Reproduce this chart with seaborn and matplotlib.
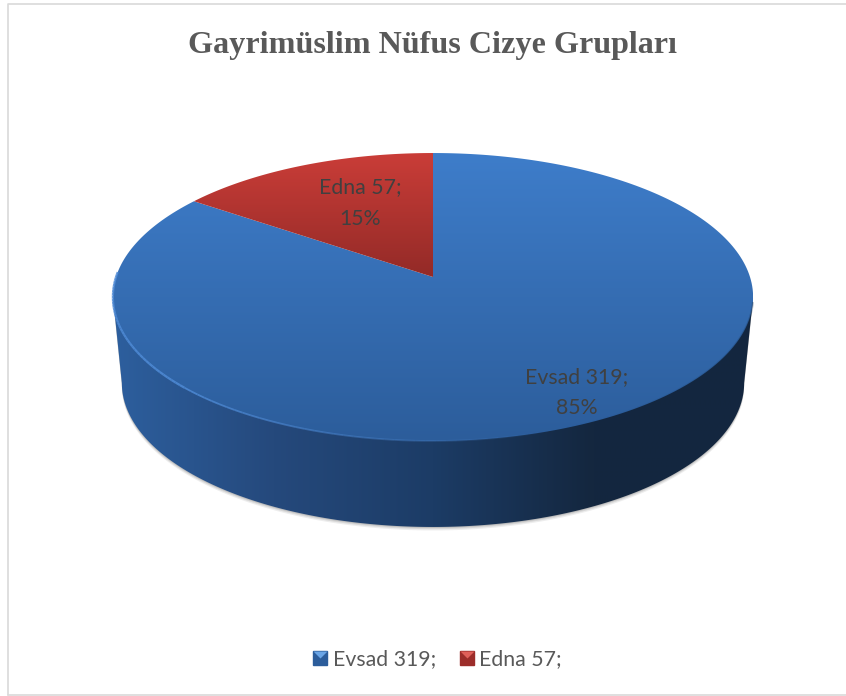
import numpy as np
import matplotlib
matplotlib.use("Agg")
import matplotlib.pyplot as plt
import seaborn as sns
from matplotlib.colors import LinearSegmentedColormap
from matplotlib.legend_handler import HandlerTuple
from matplotlib.lines import Line2D
from matplotlib.patches import Polygon
from matplotlib.transforms import Affine2D

# data
title = "Gayrimüslim Nüfus Cizye Grupları"
labels = ["Evsad", "Edna"]
values = [319, 57]

sns.set_theme(style="white")
plt.rcParams["font.family"] = ["Lato", "DejaVu Sans"]

# colours of the faces, top to bottom / left to right
blue_face = ["#3e7dca", "#2c5d9b"]
red_face = ["#ca3d38", "#932a27"]
wall = ["#2d5f9e", "#25497c", "#1c3c66", "#14273f", "#13263f"]

# pixel geometry of the tilted pie
CX, CY = 433, 277
R, A, C = 317, 141.2, 0.1389
DEPTH = 86


def project(u, v, dy=0, sx=1.0):
    # perspective view of the flat unit disc
    w = 1 + C * v
    return CX + sx * R * u / w, CY + dy - A * v / w


def gradient(ax, patch, colors, box, vertical=True):
    cmap = LinearSegmentedColormap.from_list("g", colors)
    ramp = np.linspace(0, 1, 256)
    ramp = ramp[:, None] if vertical else ramp[None, :]
    x0, x1, y0, y1 = box
    im = ax.imshow(ramp, cmap=cmap, extent=(x0, x1, y1, y0), aspect="auto",
                   zorder=patch.get_zorder(), interpolation="bilinear")
    im.set_clip_path(patch)


def rim(ax, start, end, color, lw, a0, a1):
    # arc on the top face edge whose strength fades from a0 to a1
    edges = np.radians(np.linspace(start, end, 41))
    rx, ry = project(np.cos(edges), np.sin(edges))
    for i, a in enumerate(np.linspace(a0, a1, 40)):
        ax.plot(rx[i:i + 2], ry[i:i + 2], color=color, lw=lw, alpha=a, zorder=5,
                solid_capstyle="butt")


fig = plt.figure(figsize=(8.46, 6.96), dpi=100, facecolor="white")
ax = fig.add_axes([0, 0, 1, 1])

# pie on the unit circle gives the wedge shapes
wedges, _ = ax.pie(values, startangle=90, counterclock=False, radius=1)
shapes = []
for wedge in wedges:
    path = wedge.get_patch_transform().transform_path(wedge.get_path())
    path = Affine2D().scale(2000).transform_path(path)
    verts = np.vstack(path.to_polygons(closed_only=False)) / 2000
    shapes.append(verts)
    wedge.remove()

ax.set_aspect("auto")
ax.set_xlim(0, 846)
ax.set_ylim(696, 0)
ax.axis("off")

# chart border
ax.plot([8, 8, 846], [695, 4, 4], color="#d9d9d9", lw=1.2, zorder=1)
ax.plot([8, 846], [695, 695], color="#d9d9d9", lw=1.2, zorder=1)

# side wall
t = np.radians(np.linspace(188, 352, 300))
bx, by = project(np.cos(t), np.sin(t), dy=DEPTH, sx=0.972)
tt = np.radians(np.linspace(0, 360, 400))
tx, ty = project(np.cos(tt), np.sin(tt))
left = np.argmin(tx)
right = np.argmax(tx)
outline = np.vstack([[tx[left], ty[left]], np.c_[bx, by], [tx[right], ty[right]]])

for off, a in zip([3.5, 2.2, 1.0], [0.10, 0.14, 0.2]):
    ax.add_patch(Polygon(outline + [0, off], closed=True, fc="#555555", ec="none",
                         alpha=a, zorder=2))
side = Polygon(outline, closed=True, fc="none", ec="none", zorder=3)
ax.add_patch(side)
gradient(ax, side, wall, (113, 753, 150, 530), vertical=False)

# top faces
faces = [(blue_face, (113, 753, 153, 441)), (red_face, (113, 753, 153, 277))]
for verts, (cols, box) in zip(shapes, faces):
    px, py = project(verts[:, 0], verts[:, 1])
    face = Polygon(np.c_[px, py], closed=True, fc="none", ec="none", zorder=4)
    ax.add_patch(face)
    gradient(ax, face, cols, box)

# light rim on the front left, dark soft edge on the right
rim(ax, 178, 225, "#4f8bd6", 1.6, 0.85, 0.85)
rim(ax, 225, 290, "#4f8bd6", 1.3, 0.85, 0.0)
rim(ax, 290, 350, "#16304f", 1.4, 0.0, 0.3)

# data labels
total = sum(values)
label_pos = [(577, 392.5), (360, 203)]
for name, val, (lx, ly) in zip(labels, values, label_pos):
    ax.text(lx, ly, f"{name} {val};\n{val / total * 100:.0f}%", ha="center", va="center",
            fontsize=15.3, color="#404040", linespacing=1.69, zorder=6)

ax.text(432.5, 46, title, ha="center", va="center", fontsize=23.1, fontweight="bold",
        family="Liberation Serif", color="#595959", zorder=6)

# legend
handles = []
legend_cols = [("#2c5d9b", "#6aa5e6"), ("#9c2d2a", "#e0605a")]
for dark, light in legend_cols:
    sq = Line2D([], [], marker="s", ms=10, mfc=dark, mec=dark, ls="none")
    tri = Line2D([], [], marker=[(-1, 1), (1, 1), (0, 0)], ms=10, mfc=light, mec="none",
                 ls="none")
    handles.append((sq, tri))
ax.legend(handles, [f"{n} {v};" for n, v in zip(labels, values)],
          handler_map={tuple: HandlerTuple(ndivide=1)}, ncol=2, frameon=False,
          loc="center", bbox_to_anchor=(437.5 / 846, 1 - 659 / 696),
          fontsize=15.3, labelcolor="#595959", handlelength=0.67, handletextpad=0.25,
          columnspacing=1.1, borderpad=0)

fig.savefig("out.png", dpi=100)
